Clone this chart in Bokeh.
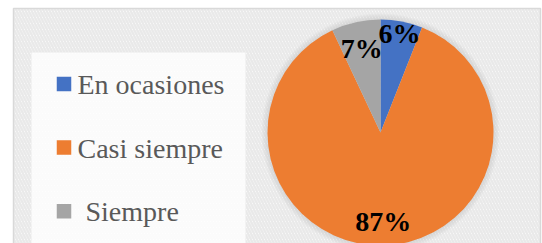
import numpy as np
from bokeh.plotting import figure
from bokeh.models import Range1d, ColumnDataSource
from bokeh.core.properties import value
from bokeh.embed import file_html
from bokeh.resources import INLINE

# ---- data ----
categories = ["En ocasiones", "Casi siempre", "Siempre"]
percentages = [6, 87, 7]
colors = ["#4472C4", "#ED7D31", "#A5A5A5"]

# ---- layout / style ----
W, H = 542, 243
CX, CY, R = 380, 111, 113
label_radius = [101, 89, 86]
legend_x_offset = [0, 0, 8]

p = figure(width=W, height=H, x_range=Range1d(0, W), y_range=Range1d(0, H),
           output_backend="svg", toolbar_location=None, min_border=0)
p.axis.visible = False
p.grid.visible = False
p.outline_line_color = None
p.background_fill_color = "white"
p.border_fill_color = "white"

# chart area with diagonal hatch
p.quad(left=13, right=540, top=235, bottom=-10, fill_color="white",
       hatch_pattern="\\", hatch_color="#e9e9e9", hatch_scale=6, hatch_weight=2.4,
       line_color="#d9d9d9", line_width=1.5)

# legend panel
p.quad(left=31, right=245, top=191, bottom=-10, fill_color="white", fill_alpha=0.8,
       line_color=None)

# pie shadow
for k in range(1, 7):
    p.circle(x=[CX], y=[CY], radius=R + k, radius_units="screen",
             fill_color="#808080", fill_alpha=0.035, line_color=None)

# wedges
vals = np.array(percentages, dtype=float)
cum = np.concatenate([[0], np.cumsum(vals)]) / vals.sum()
start = np.pi / 2 - 2 * np.pi * cum[:-1]
end = np.pi / 2 - 2 * np.pi * cum[1:]
src = ColumnDataSource(dict(start=start, end=end, color=colors, cat=categories))
p.wedge(x=CX, y=CY, radius=R, radius_units="screen", start_angle="start", end_angle="end",
        direction="clock", fill_color="color", line_color=None, source=src)

# percentage labels
mid = (start + end) / 2
lx = CX + np.array(label_radius) * np.cos(mid)
ly = CY + np.array(label_radius) * np.sin(mid)
pct_text = [f"{v}%" for v in percentages]
p.text(x=lx, y=ly, text=pct_text, text_font=value("Liberation Serif"),
       text_font_style="bold", text_font_size="28px", text_color="black",
       text_align="center", text_baseline="middle")

# legend
ys_marker = [159.5, 96, 32.2]
ys_text = [159.1, 95.4, 32.0]
p.rect(x=[63.5] * 3, y=ys_marker, width=14.5, height=14.5, fill_color=colors, line_color=None)
p.text(x=[77 + o for o in legend_x_offset], y=ys_text, text=categories,
       text_font=value("Liberation Serif"), text_font_size="28px", text_color="#595959",
       text_align="left", text_baseline="middle")

open("out.html", "w").write(file_html(p, INLINE))
